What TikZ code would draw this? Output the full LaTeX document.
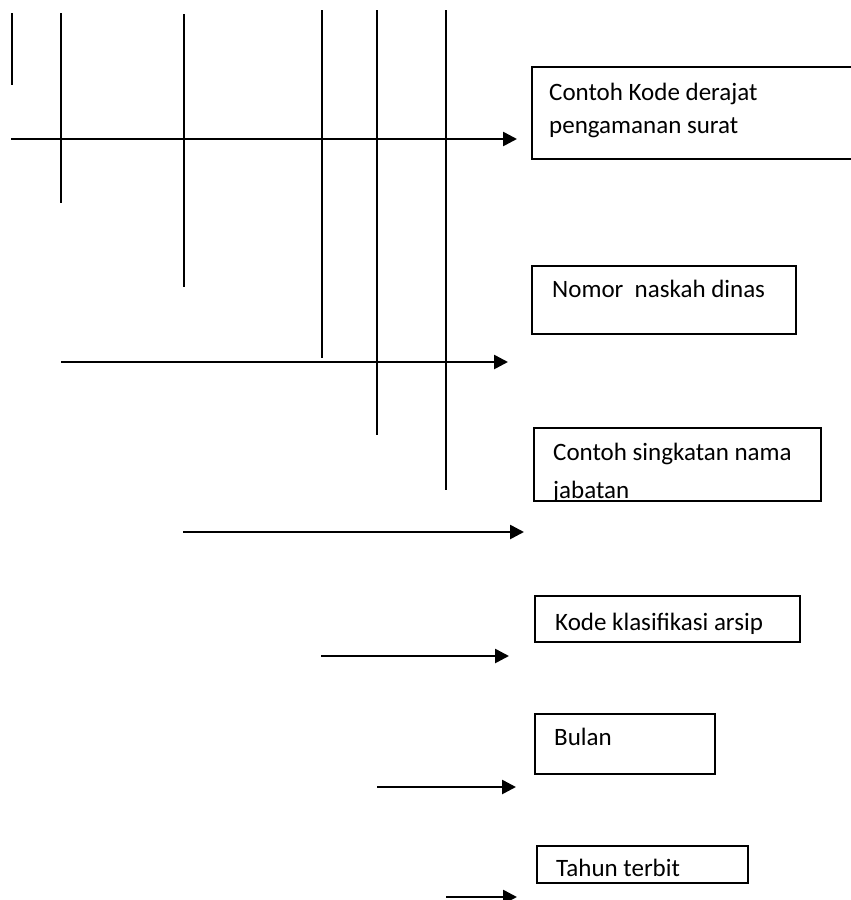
\documentclass[tikz,border=0pt]{standalone}
\usepackage{fontspec}
\setmainfont{Carlito}
\usetikzlibrary{arrows.meta}
\begin{document}
\begin{tikzpicture}[x=1pt, y=-1pt, font=\fontsize{25}{33}\selectfont,
  kotak/.style={draw, line width=2pt, anchor=north west, inner sep=0pt},
  isi/.style={anchor=base west, inner sep=0pt},
  garis/.style={line width=2.6pt},
  panah/.style={line width=2.6pt, -{Triangle[length=14pt, width=14pt]}},
]
\useasboundingbox (0,0) rectangle (851,900);

\node[kotak, minimum width=344, minimum height=92] (kotak1) at (531, 66) {};
\node[kotak, minimum width=264, minimum height=68] (kotak2) at (531, 265) {};
\node[kotak, minimum width=287, minimum height=73] (kotak3) at (533, 427) {};
\node[kotak, minimum width=265, minimum height=46] (kotak4) at (534, 595) {};
\node[kotak, minimum width=180, minimum height=60] (kotak5) at (534, 713) {};
\node[kotak, minimum width=211, minimum height=37] (kotak6) at (536, 845) {};

\node[isi] (derajat) at ([shift={(18,34)}]kotak1.north west) {Contoh Kode derajat};
\node[isi] (pengamanan) at ([shift={(18,67)}]kotak1.north west) {pengamanan surat};
\node[isi] (nomor) at ([shift={(21,32)}]kotak2.north west) {Nomor\ \ naskah dinas};
\begin{scope}
  \clip ([shift={(1pt,-1pt)}]kotak3.north west) rectangle ([shift={(-1pt,1pt)}]kotak3.south east);
  \node[isi] (singkatan) at ([shift={(20,33)}]kotak3.north west) {Contoh singkatan nama};
  \node[isi] (jabatan) at ([shift={(20,71)}]kotak3.north west) {jabatan};
\end{scope}
\node[isi] (klasifikasi) at ([shift={(21,35)}]kotak4.north west) {Kode klasifikasi arsip};
\node[isi] (bulan) at ([shift={(20,32)}]kotak5.north west) {Bulan};
\node[isi] (tahun) at ([shift={(20,31)}]kotak6.north west) {Tahun terbit};

% garis tegak
\draw[garis] (12, 13) -- (12, 85);
\draw[garis] (61, 13) -- (61, 203);
\draw[garis] (184, 14) -- (184, 287);
\draw[garis] (322, 10) -- (322, 358);
\draw[garis] (377, 10) -- (377, 435);
\draw[garis] (446, 10) -- (446, 490);

\coordinate (awal1) at (11, 139);
\coordinate (ujung1) at (517, 139);
\coordinate (awal2) at (61, 362);
\coordinate (ujung2) at (508, 362);
\coordinate (awal3) at (183, 532);
\coordinate (ujung3) at (524, 532);
\coordinate (awal4) at (321, 656);
\coordinate (ujung4) at (509, 656);
\coordinate (awal5) at (377, 787);
\coordinate (ujung5) at (516, 787);
\coordinate (awal6) at (446, 897);
\coordinate (ujung6) at (517, 897);

\draw[panah] (awal1) -- (ujung1);
\draw[panah] (awal2) -- (ujung2);
\draw[panah] (awal3) -- (ujung3);
\draw[panah] (awal4) -- (ujung4);
\draw[panah] (awal5) -- (ujung5);
\draw[panah] (awal6) -- (ujung6);
\end{tikzpicture}
\end{document}
